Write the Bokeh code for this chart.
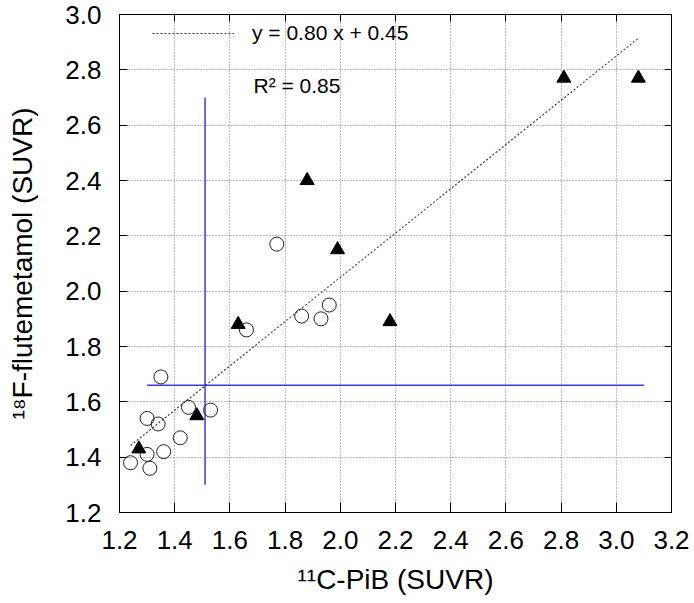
from bokeh.plotting import figure
from bokeh.models import (LinearAxis, FixedTicker, PrintfTickFormatter, Legend,
                          LegendItem, Label, Range1d, CustomJSTickFormatter)
from bokeh.embed import file_html
from bokeh.resources import INLINE

# ---- data ----
x_ticks = [1.2, 1.4, 1.6, 1.8, 2.0, 2.2, 2.4, 2.6, 2.8, 3.0, 3.2]
y_ticks = [1.2, 1.4, 1.6, 1.8, 2.0, 2.2, 2.4, 2.6, 2.8, 3.0]

pos_x = [1.27, 1.48, 1.63, 1.88, 1.99, 2.18, 2.81, 3.08]
pos_y = [1.43, 1.55, 1.88, 2.40, 2.15, 1.89, 2.77, 2.77]

neg_x = [1.24, 1.30, 1.31, 1.30, 1.34, 1.35, 1.36, 1.42, 1.45, 1.53, 1.66, 1.77, 1.86, 1.93, 1.96]
neg_y = [1.38, 1.41, 1.36, 1.54, 1.52, 1.69, 1.42, 1.47, 1.58, 1.57, 1.86, 2.17, 1.91, 1.90, 1.95]

slope = 0.80
intercept = 0.45
r_squared = 0.85

cut_x = 1.51
cut_x_span = [1.30, 2.70]
cut_y = 1.66
cut_y_span = [1.30, 3.10]

x_title = "\u00b9\u00b9C-PiB (SUVR)"
y_title = "\u00b9\u2078F-flutemetamol (SUVR)"

FONT = "Liberation Sans"

all_x = pos_x + neg_x
fit_x = [min(all_x), max(all_x)]
fit_y = [slope * v + intercept for v in fit_x]

p = figure(width=692, height=600,
           x_range=Range1d(x_ticks[0], x_ticks[-1]),
           y_range=Range1d(y_ticks[0], y_ticks[-1]),
           output_backend="svg", toolbar_location=None,
           min_border_left=119, min_border_right=21,
           min_border_top=14, min_border_bottom=88)
p.outline_line_color = "black"
p.background_fill_color = "white"
p.border_fill_color = "white"


def style_axis(ax, ticks, tick_len):
    ax.ticker = FixedTicker(ticks=ticks)
    ax.major_tick_in = tick_len
    ax.major_tick_out = 0
    ax.minor_tick_line_color = None
    ax.axis_line_color = "black"
    ax.major_tick_line_color = "black"


xa = p.xaxis[0]
style_axis(xa, x_ticks, 10)
xa.formatter = PrintfTickFormatter(format="%.1f")
xa.major_label_text_font = FONT
xa.major_label_text_font_size = "26px"
xa.major_label_text_color = "black"
xa.major_label_standoff = 18
xa.axis_label = x_title
xa.axis_label_text_font = FONT
xa.axis_label_text_font_size = "28px"
xa.axis_label_text_font_style = "normal"
xa.axis_label_text_color = "black"
xa.axis_label_standoff = 12

ya = p.yaxis[0]
style_axis(ya, y_ticks, 8)
ya.formatter = PrintfTickFormatter(format="%.1f")
ya.major_label_text_font = FONT
ya.major_label_text_font_size = "26px"
ya.major_label_text_color = "black"
ya.major_label_standoff = 18
ya.axis_label = y_title
ya.axis_label_text_font = FONT
ya.axis_label_text_font_size = "28px"
ya.axis_label_text_font_style = "normal"
ya.axis_label_text_color = "black"
ya.axis_label_standoff = 24

blank = CustomJSTickFormatter(code="return ''")
top_ax = LinearAxis(formatter=blank, major_label_standoff=0)
style_axis(top_ax, x_ticks, 7)
p.add_layout(top_ax, "above")
right_ax = LinearAxis(formatter=blank, major_label_standoff=0)
style_axis(right_ax, y_ticks, 7)
p.add_layout(right_ax, "right")

for g, ticks in ((p.xgrid[0], x_ticks), (p.ygrid[0], y_ticks)):
    g.ticker = FixedTicker(ticks=ticks)
    g.grid_line_color = "#7a7a7a"
    g.grid_line_dash = "1 2"
    g.grid_line_width = 1

# cutoff lines
p.line([cut_x, cut_x], cut_x_span, line_color="#3a3ae6", line_width=1.5)
p.line(cut_y_span, [cut_y, cut_y], line_color="#3a3ae6", line_width=1.5)

# regression line
fit = p.line(fit_x, fit_y, line_color="#3c3c3c", line_dash="2 2", line_width=1.1)

# points
p.scatter(pos_x, pos_y, marker="triangle", size=14, fill_color="black", line_color="black")
p.scatter(neg_x, neg_y, marker="circle", size=14, fill_color=None, line_color="#222222", line_width=1)

legend = Legend(items=[LegendItem(label="y = %.2f x + %.2f" % (slope, intercept), renderers=[fit])],
                location=(33, 467), padding=0, margin=0, spacing=0,
                border_line_color=None, background_fill_alpha=0,
                glyph_width=82, glyph_height=20, label_standoff=18,
                label_text_font=FONT, label_text_font_size="21px",
                label_text_color="black")
p.add_layout(legend)

p.add_layout(Label(x=134, y=427, x_units="screen", y_units="screen",
                   text="R\u00b2 = %.2f" % r_squared, text_font=FONT,
                   text_font_size="21px", text_color="black",
                   text_baseline="alphabetic"))

open("out.html", "w").write(file_html(p, INLINE))
